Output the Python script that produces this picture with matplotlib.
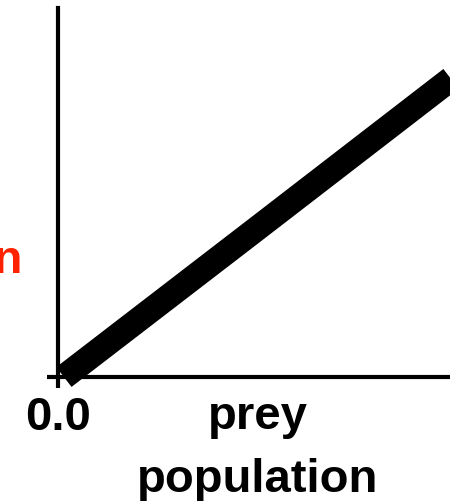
import matplotlib
matplotlib.use("Agg")
import matplotlib.pyplot as plt

# data
prey = [0.015, 0.49, 1.0]
consumption = [0.0, 0.39, 0.81]
xticks = [0.0]
xtick_labels = ["0.0"]
xlabel = "prey\npopulation"
ylabel = "predator\npopulation"

plt.rcParams['font.family'] = ['Liberation Sans', 'DejaVu Sans']

fig = plt.figure(figsize=(4.5, 5.01), dpi=100)
ax = fig.add_axes([58/450, (501-377)/501, (452-58)/450, (377-8)/501])

ax.plot(prey, consumption, color='black', lw=18, solid_capstyle='butt',
        solid_joinstyle='round', clip_on=False, zorder=3)

ax.set_xlim(0, 1)
ax.set_ylim(0, 1)
for s in ['top', 'right']:
    ax.spines[s].set_visible(False)
for s in ['left', 'bottom']:
    ax.spines[s].set_linewidth(3)
    ax.spines[s].set_color('black')

ax.set_xticks(xticks)
ax.set_xticklabels(xtick_labels, fontsize=34, fontweight='bold')
ax.set_yticks([0.0])
ax.set_yticklabels([""])
ax.tick_params(axis='both', length=8, width=3, pad=6)

fig.text(258/450, 1 - 492/501, xlabel, ha='center', va='baseline',
         ma='center', fontsize=34, fontweight='bold', color='black',
         linespacing=1.55)

fig.text(-97/450, 1 - 273/501, ylabel, ha='center', va='baseline',
         ma='center', fontsize=34, fontweight='bold', color='#ff2200',
         linespacing=1.55)

fig.savefig("out.png", dpi=100)
